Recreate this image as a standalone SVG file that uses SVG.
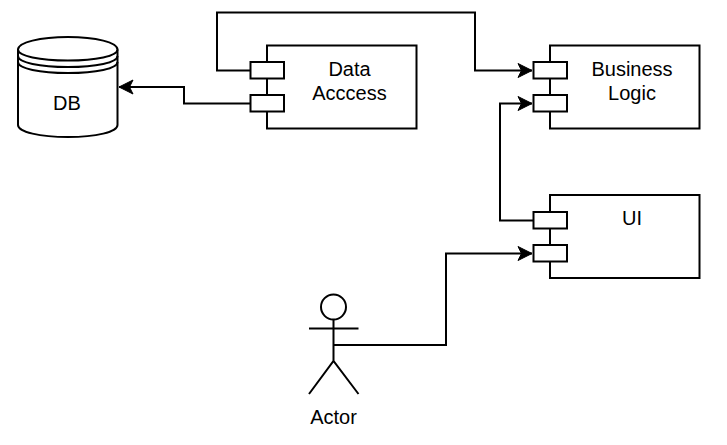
<svg xmlns="http://www.w3.org/2000/svg" width="727" height="445" viewBox="0 0 727 445">
<style>
.s{fill:#fff;stroke:#000;stroke-width:2}
.n{fill:none;stroke:#000;stroke-width:2}
.c{fill:none;stroke:#000;stroke-width:2;stroke-linejoin:miter}
text{font-family:"Liberation Sans",Arial,sans-serif;font-size:20px;fill:#000;text-anchor:middle}
</style>
<defs>
<marker id="arrow" markerUnits="userSpaceOnUse" markerWidth="18" markerHeight="18" refX="16" refY="9" orient="auto">
<path d="M16 9L2 2L5.500 9L2 16Z" fill="#000" stroke="#000" stroke-width="1"/>
</marker>
</defs>
<rect width="727" height="445" fill="#fff"/>
<g id="connectors">
<path class="c" d="M250 70.500H217V12.500H475V70.500H532" marker-end="url(#arrow)"/>
<path class="c" d="M250 103.500H184V87H119" marker-end="url(#arrow)"/>
<path class="c" d="M533 220.500H500V103.500H532" marker-end="url(#arrow)"/>
<path class="c" d="M334 345H446V253.500H532" marker-end="url(#arrow)"/>
</g>
<g id="db">
<path class="s" d="M18 49.500C18 42.500 40 37 68 37S117.500 42.500 117.500 49.500V125C117.500 132 96 137 68 137S18 132 18 125Z"/>
<path class="n" d="M18 49.500C18 56 40 60.500 68 60.500S117.500 56 117.500 49.500"/>
<path class="n" d="M18 56C18 62.500 40 67 68 67S117.500 62.500 117.500 56"/>
<path class="n" d="M18 62C18 68.500 40 73 68 73S117.500 68.500 117.500 62"/>
<text x="67" y="110">DB</text>
</g>
<g id="data-access">
<rect class="s" x="267" y="45.500" width="149.500" height="83"/>
<rect class="s" x="250.500" y="62" width="33.500" height="16.500"/>
<rect class="s" x="250.500" y="95" width="33.500" height="16.500"/>
<text x="349.500" y="76">Data</text>
<text x="349.500" y="100">Acccess</text>
</g>
<g id="business-logic">
<rect class="s" x="550" y="45.500" width="149.500" height="83"/>
<rect class="s" x="533.500" y="62" width="33.500" height="16.500"/>
<rect class="s" x="533.500" y="95" width="33.500" height="16.500"/>
<text x="632" y="76">Business</text>
<text x="632" y="100">Logic</text>
</g>
<g id="ui">
<rect class="s" x="550" y="195" width="149.500" height="83"/>
<rect class="s" x="533.500" y="212" width="33.500" height="16.500"/>
<rect class="s" x="533.500" y="245" width="33.500" height="16.500"/>
<text x="632" y="225">UI</text>
</g>
<g id="actor">
<circle class="n" cx="333.500" cy="307" r="12.500"/>
<path class="n" d="M333.500 319.500V361M309 328.500H358.500M309 394L333.500 361L358.500 394"/>
<text x="333.500" y="424">Actor</text>
</g>
</svg>
